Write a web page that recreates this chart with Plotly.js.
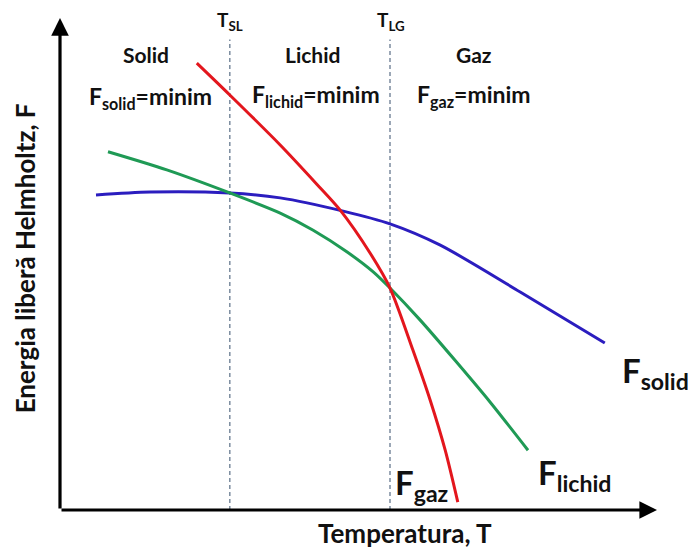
<!DOCTYPE html>
<html>
<head>
<meta charset="utf-8">
<script src="https://cdn.plot.ly/plotly-3.0.1.min.js"></script>
<style>html,body{margin:0;padding:0;background:#fff}#chart{width:688px;height:550px}</style>
</head>
<body>
<div id="chart"></div>
<script>
// Temperature (arbitrary units) and Helmholtz free energy (arbitrary units)
const tSolid  = [0.6, 1.5, 2.83, 3.67, 4.72, 5.5, 6.33, 7.67, 9.08];
const fSolid  = [6.43, 6.49, 6.47, 6.37, 6.10, 5.84, 5.41, 4.45, 3.41];
const tLichid = [0.8, 1.78, 2.83, 3.67, 4.22, 4.78, 5.22, 5.5, 6.0, 6.58, 7.17, 7.8];
const fLichid = [7.31, 6.94, 6.47, 6.06, 5.71, 5.27, 4.86, 4.53, 3.88, 3.06, 2.20, 1.22];
const tGaz    = [2.28, 2.83, 3.67, 4.28, 4.67, 5.17, 5.5, 5.88, 6.17, 6.42, 6.63];
const fGaz    = [9.12, 8.47, 7.45, 6.65, 6.12, 5.24, 4.53, 3.27, 2.24, 1.22, 0.16];
// transition temperatures
const tTransitions = [2.83, 5.5];
const transitionLabels = ['T<sub>SL</sub>', 'T<sub>LG</sub>'];
const phaseNames = ['Solid', 'Lichid', 'Gaz'];
const phaseMinimum = ['F<sub>solid</sub>=minim', 'F<sub>lichid</sub>=minim', 'F<sub>gaz</sub>=minim'];
const curveLabels = ['F<sub>solid</sub>', 'F<sub>lichid</sub>', 'F<sub>gaz</sub>'];
const xTitle = 'Temperatura, T';
const yTitle = 'Energia liberă Helmholtz, F';

const FONT = 'Lato, "Open Sans", sans-serif';
const colors = {solid: '#2b1dbf', lichid: '#1f9a55', gaz: '#e3161d', dash: '#7b8b9e'};

const traces = [
  {x: tSolid, y: fSolid, mode: 'lines', line: {color: colors.solid, width: 3, shape: 'spline', smoothing: 0.8}, hoverinfo: 'skip'},
  {x: tLichid, y: fLichid, mode: 'lines', line: {color: colors.lichid, width: 3, shape: 'spline', smoothing: 0.8}, hoverinfo: 'skip'},
  {x: tGaz, y: fGaz, mode: 'lines', line: {color: colors.gaz, width: 3, shape: 'spline', smoothing: 0.8}, hoverinfo: 'skip'}
];

const shapes = tTransitions.map(t => ({
  type: 'line', xref: 'x', yref: 'y', x0: t, x1: t, y0: 0, y1: 9.6,
  line: {color: colors.dash, width: 1.5, dash: '4px,3px'}, layer: 'below'
}));

function txt(text, x, y, size, extra) {
  return Object.assign({text: text, x: x, y: y, xref: 'x', yref: 'y', showarrow: false,
    xanchor: 'center', yanchor: 'middle',
    font: {family: FONT, size: size, color: '#111', weight: 'bold'}}, extra || {});
}

const annotations = [
  // axes arrows
  {x: 9.95, y: 0, ax: 0, ay: 0, xref: 'x', yref: 'y', axref: 'x', ayref: 'y', text: '', showarrow: true,
   arrowhead: 2, arrowsize: 1.1, arrowwidth: 3.2, arrowcolor: '#000', standoff: 0, startstandoff: 0},
  {x: 0, y: 10.04, ax: 0, ay: 0, xref: 'x', yref: 'y', axref: 'x', ayref: 'y', text: '', showarrow: true,
   arrowhead: 2, arrowsize: 1.1, arrowwidth: 3.2, arrowcolor: '#000', standoff: 0, startstandoff: 0},
  // transition labels
  txt(transitionLabels[0], tTransitions[0], 9.98, 19),
  txt(transitionLabels[1], tTransitions[1] + 0.02, 9.98, 19),
  // phase names
  txt(phaseNames[0], 1.43, 9.29, 21),
  txt(phaseNames[1], 4.2, 9.29, 21),
  txt(phaseNames[2], 6.9, 9.29, 21),
  // minimum conditions
  txt(phaseMinimum[0], 1.5, 8.42, 23),
  txt(phaseMinimum[1], 4.27, 8.46, 23),
  txt(phaseMinimum[2], 6.9, 8.46, 23),
  // curve labels
  txt(curveLabels[0], 9.92, 2.80, 33),
  txt(curveLabels[1], 8.57, 0.72, 33),
  txt(curveLabels[2], 6.03, 0.52, 33),
  // axis titles
  txt(xTitle, 0.575, -0.047, 26, {xref: 'paper', yref: 'paper'}),
  txt(yTitle, -0.058, 0.514, 26, {xref: 'paper', yref: 'paper', textangle: -90})
];

const layout = {
  width: 688, height: 550,
  margin: {l: 60, r: 28, t: 20, b: 40},
  paper_bgcolor: '#fff', plot_bgcolor: '#fff',
  showlegend: false,
  xaxis: {range: [0, 10], showgrid: false, zeroline: false, showline: false, showticklabels: false, ticks: '', fixedrange: true},
  yaxis: {range: [0, 10], showgrid: false, zeroline: false, showline: false, showticklabels: false, ticks: '', fixedrange: true},
  shapes: shapes,
  annotations: annotations
};

Plotly.newPlot('chart', traces, layout, {staticPlot: true, displayModeBar: false});
</script>
</body>
</html>
